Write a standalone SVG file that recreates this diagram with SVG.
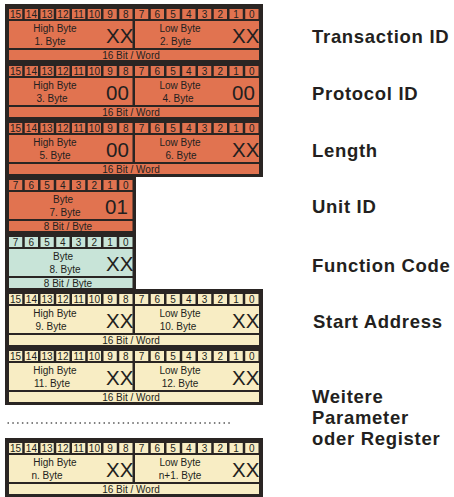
<svg xmlns="http://www.w3.org/2000/svg" xmlns:xlink="http://www.w3.org/1999/xlink" width="454" height="497" viewBox="0 0 454 497">
<style>
.frame{fill:#2a2523}
.o{fill:#e17350}
.t{fill:#c8e4d8}
.c{fill:#f8edc4}
text{font-family:"Liberation Sans",Arial,sans-serif;fill:#231f20}
.bit{font-size:10px;text-anchor:middle}
.lbl{font-size:10px;text-anchor:middle}
.big{font-size:20.5px}
.side{font-size:18.5px;font-weight:bold;letter-spacing:0.7px}
</style>
<defs>
<g id="bits8">
<rect x="9" y="4" width="13.25" height="10"/><rect x="24.75" y="4" width="13.25" height="10"/><rect x="40.5" y="4" width="13.25" height="10"/><rect x="56.25" y="4" width="13.25" height="10"/><rect x="72" y="4" width="13.25" height="10"/><rect x="87.75" y="4" width="13.25" height="10"/><rect x="103.5" y="4" width="13.25" height="10"/><rect x="119.25" y="4" width="13.25" height="10"/>
</g>
<g id="bits16">
<use xlink:href="#bits8"/>
<use xlink:href="#bits8" x="126"/>
<text class="bit" x="15.6" y="12.8">15</text><text class="bit" x="31.4" y="12.8">14</text><text class="bit" x="47.1" y="12.8">13</text><text class="bit" x="62.9" y="12.8">12</text><text class="bit" x="78.6" y="12.8">11</text><text class="bit" x="94.4" y="12.8">10</text><text class="bit" x="110.1" y="12.8">9</text><text class="bit" x="125.9" y="12.8">8</text>
<text class="bit" x="141.6" y="12.8">7</text><text class="bit" x="157.4" y="12.8">6</text><text class="bit" x="173.1" y="12.8">5</text><text class="bit" x="188.9" y="12.8">4</text><text class="bit" x="204.6" y="12.8">3</text><text class="bit" x="220.4" y="12.8">2</text><text class="bit" x="236.1" y="12.8">1</text><text class="bit" x="251.9" y="12.8">0</text>
</g>
<g id="bitsB">
<use xlink:href="#bits8"/>
<text class="bit" x="15.6" y="12.8">7</text><text class="bit" x="31.4" y="12.8">6</text><text class="bit" x="47.1" y="12.8">5</text><text class="bit" x="62.9" y="12.8">4</text><text class="bit" x="78.6" y="12.8">3</text><text class="bit" x="94.4" y="12.8">2</text><text class="bit" x="110.1" y="12.8">1</text><text class="bit" x="125.9" y="12.8">0</text>
</g>
<g id="word">
<rect class="frame" x="5" y="-1" width="258" height="59"/>
<use xlink:href="#bits16"/>
<rect x="9" y="16" width="123.5" height="27"/>
<rect x="135" y="16" width="124" height="27"/>
<rect x="9" y="45" width="250" height="10"/>
<text class="lbl" x="131" y="54">16 Bit / Word</text>
<text class="lbl" x="55" y="27">High Byte</text>
<text class="lbl" x="180" y="27">Low Byte</text>
</g>
<g id="byte">
<rect class="frame" x="5" y="-1" width="131" height="59"/>
<use xlink:href="#bitsB"/>
<rect x="9" y="16" width="123.5" height="27"/>
<rect x="9" y="45" width="123.5" height="10"/>
<text class="lbl" x="68" y="54">8 Bit / Byte</text>
<text class="lbl" x="63" y="27">Byte</text>
</g>
</defs>

<g id="transaction-id" transform="translate(0,5)">
<use xlink:href="#word" class="o"/>
<text class="lbl" x="50" y="40">1. Byte</text><text class="lbl" x="175.5" y="40">2. Byte</text>
<text class="big" x="106" y="37.5">XX</text><text class="big" x="232" y="37.5">XX</text>
</g>
<g id="protocol-id" transform="translate(0,62)">
<use xlink:href="#word" class="o"/>
<text class="lbl" x="52" y="40">3. Byte</text><text class="lbl" x="178" y="40">4. Byte</text>
<text class="big" x="106" y="37.5">00</text><text class="big" x="232" y="37.5">00</text>
</g>
<g id="length" transform="translate(0,119)">
<use xlink:href="#word" class="o"/>
<text class="lbl" x="55" y="40">5. Byte</text><text class="lbl" x="181" y="40">6. Byte</text>
<text class="big" x="106" y="37.5">00</text><text class="big" x="232" y="37.5">XX</text>
</g>
<g id="unit-id" transform="translate(0,176)">
<use xlink:href="#byte" class="o"/>
<text class="lbl" x="65" y="40">7. Byte</text>
<text class="big" x="105" y="37.5">01</text>
</g>
<g id="function-code" transform="translate(0,233)">
<use xlink:href="#byte" class="t"/>
<text class="lbl" x="65" y="40">8. Byte</text>
<text class="big" x="106" y="37.5">XX</text>
</g>
<g id="start-address" transform="translate(0,290)">
<use xlink:href="#word" class="c"/>
<text class="lbl" x="51" y="40">9. Byte</text><text class="lbl" x="178" y="40">10. Byte</text>
<text class="big" x="106" y="37.5">XX</text><text class="big" x="232" y="37.5">XX</text>
</g>
<g id="register-11-12" transform="translate(0,347)">
<use xlink:href="#word" class="c"/>
<text class="lbl" x="52" y="40">11. Byte</text><text class="lbl" x="180" y="40">12. Byte</text>
<text class="big" x="106" y="37.5">XX</text><text class="big" x="232" y="37.5">XX</text>
</g>
<g id="dots">
<line x1="7.5" y1="423" x2="233" y2="423" stroke="#555" stroke-width="1.5" stroke-dasharray="1.5 3.3"/>
</g>
<g id="register-n" transform="translate(0,439)">
<use xlink:href="#word" class="c"/>
<text class="lbl" x="47" y="40">n. Byte</text><text class="lbl" x="180" y="40">n+1. Byte</text>
<text class="big" x="106" y="37.5">XX</text><text class="big" x="232" y="37.5">XX</text>
</g>

<g id="labels">
<text class="side" x="312" y="43">Transaction ID</text>
<text class="side" x="312" y="100">Protocol ID</text>
<text class="side" x="312" y="157">Length</text>
<text class="side" x="312" y="213">Unit ID</text>
<text class="side" x="312" y="272">Function Code</text>
<text class="side" x="313" y="328">Start Address</text>
<text class="side" x="312" y="403">Weitere</text>
<text class="side" x="312" y="424">Parameter</text>
<text class="side" x="312" y="445">oder Register</text>
</g>
</svg>
